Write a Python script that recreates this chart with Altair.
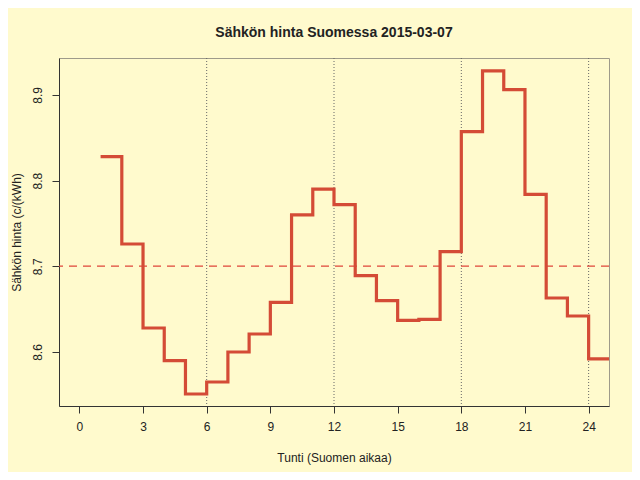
import altair as alt
import pandas as pd

hours = list(range(1, 25))
prices = [8.828, 8.726, 8.628, 8.590, 8.551, 8.565, 8.600, 8.621, 8.658, 8.760,
          8.790, 8.772, 8.689, 8.660, 8.637, 8.638, 8.717, 8.857, 8.928, 8.906,
          8.784, 8.663, 8.642, 8.592]
x_ticks = [0, 3, 6, 9, 12, 15, 18, 21, 24]
y_ticks = [8.6, 8.7, 8.8, 8.9]
vlines = [6, 12, 18, 24]

# step line: last hour's level continues to hour 25
step_df = pd.DataFrame({"hour": hours + [25], "price": prices + [prices[-1]]})
price_df = pd.DataFrame({"hour": hours, "price": prices})
vline_df = pd.DataFrame({"hour": vlines})

FONT = "Liberation Sans"
xscale = alt.Scale(domain=[-0.96, 24.96], nice=False, zero=False)
yscale = alt.Scale(domain=[8.537, 8.943], nice=False, zero=False)

xaxis = alt.Axis(values=x_ticks, title="Tunti (Suomen aikaa)", grid=False,
                 tickSize=7, labelPadding=8, titlePadding=20, labelFontSize=12,
                 titleFontSize=12, titleFontWeight="normal", labelColor="#222",
                 titleColor="#222", domainColor="#333", tickColor="#333",
                 labelFont=FONT, titleFont=FONT, labelFlush=False)
yaxis = alt.Axis(values=y_ticks, title="Sähkön hinta (c/(kWh)", grid=False,
                 tickSize=7, labelPadding=8, titlePadding=8, labelFontSize=12,
                 titleFontSize=12, titleFontWeight="normal", labelColor="#222",
                 titleColor="#222", domainColor="#333", tickColor="#333",
                 labelAngle=270, labelAlign="center", labelBaseline="bottom",
                 labelFont=FONT, titleFont=FONT, format=".1f", labelFlush=False)

vl = alt.Chart(vline_df).mark_rule(color="#666", strokeDash=[1, 2], strokeWidth=1).encode(
    x=alt.X("hour:Q", scale=xscale, axis=xaxis)
)

mean_line = alt.Chart(price_df).transform_aggregate(
    mean_price="mean(price)"
).mark_rule(color="#E0453A", strokeDash=[8, 6], strokeWidth=1.3).encode(
    y=alt.Y("mean_price:Q", scale=yscale, axis=yaxis)
)

step = alt.Chart(step_df).mark_line(
    interpolate="step-after", color="#D44B36", strokeWidth=3.2, clip=True
).encode(
    x=alt.X("hour:Q", scale=xscale, axis=xaxis),
    y=alt.Y("price:Q", scale=yscale, axis=yaxis),
)

chart = alt.layer(vl, mean_line, step).properties(
    width=550, height=348,
    title=alt.TitleParams("Sähkön hinta Suomessa 2015-03-07", fontSize=14,
                          fontWeight="bold", font=FONT, color="#222",
                          anchor="middle", offset=18),
    padding={"left": 51, "top": 50, "right": 23, "bottom": 66},
    autosize=alt.AutoSizeParams(type="none"),
    background="#FFFACD",
).configure_view(stroke="#9e9a8a", strokeWidth=1)

chart.save("out.html", embed_options={"renderer": "svg", "actions": False})
